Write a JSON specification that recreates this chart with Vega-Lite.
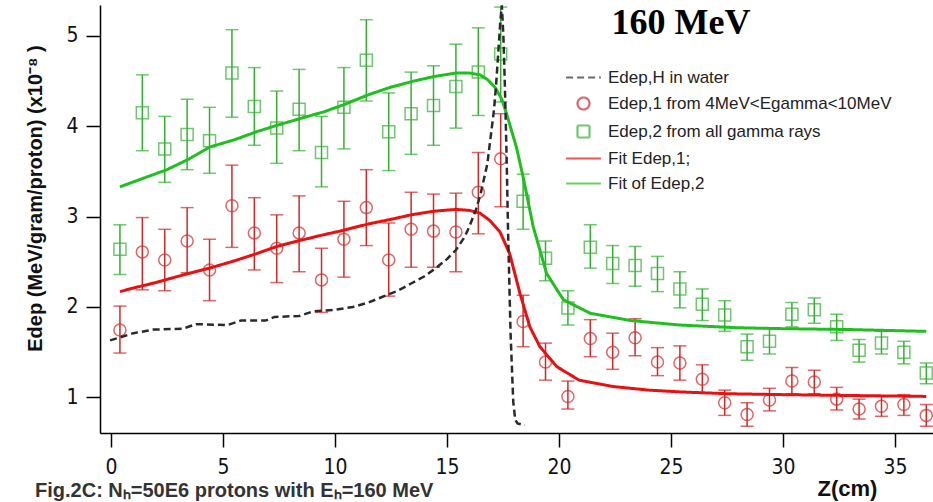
{
  "$schema": "https://vega.github.io/schema/vega-lite/v6.json",
  "width": 833,
  "height": 428,
  "autosize": {"type": "none"},
  "padding": {"left": 100, "top": 5, "right": 0, "bottom": 69},
  "background": "white",
  "config": {
    "view": {"stroke": null},
    "axis": {"domainColor": "#000", "domainWidth": 1.5, "tickColor": "#000", "tickWidth": 1.5, "tickSize": 14, "grid": false, "labelFont": "Liberation Sans Narrow, DejaVu Sans Condensed, sans-serif", "labelFontSize": 21, "labelColor": "#111", "labelFontWeight": "normal", "titleFont": "Liberation Sans", "titleFontWeight": "bold", "titleColor": "#111", "labelFlush": false, "labelOverlap": false},
    "axisX": {"labelBaseline": "middle", "labelPadding": 20, "titleFontSize": 22, "titleX": 747, "titleY": 55, "titleBaseline": "middle", "titleAlign": "center"},
    "axisY": {"labelPadding": 8, "titleFontSize": 20, "titleX": -65, "titleY": 193, "titleAngle": -90, "titleBaseline": "middle", "titleAlign": "center"},
    "legend": {"orient": "none", "legendX": 475, "legendY": 64, "labelFont": "Liberation Sans", "labelFontSize": 17, "labelColor": "#222", "rowPadding": 7, "labelOffset": 16, "labelLimit": 500, "padding": 0, "symbolSize": 144, "symbolStrokeWidth": 2.2}
  },
  "datasets": {
    "points": [
      {"s":"1","z":0.4,"v":1.745,"lo":1.49,"hi":2.01},
      {"s":"1","z":1.4,"v":2.61,"lo":2.19,"hi":2.99},
      {"s":"1","z":2.4,"v":2.52,"lo":2.18,"hi":2.86},
      {"s":"1","z":3.4,"v":2.73,"lo":2.38,"hi":3.10},
      {"s":"1","z":4.4,"v":2.41,"lo":2.07,"hi":2.75},
      {"s":"1","z":5.4,"v":3.12,"lo":2.66,"hi":3.57},
      {"s":"1","z":6.4,"v":2.82,"lo":2.41,"hi":3.21},
      {"s":"1","z":7.4,"v":2.65,"lo":2.27,"hi":3.02},
      {"s":"1","z":8.4,"v":2.82,"lo":2.39,"hi":3.23},
      {"s":"1","z":9.4,"v":2.30,"lo":1.94,"hi":2.65},
      {"s":"1","z":10.4,"v":2.75,"lo":2.33,"hi":3.17},
      {"s":"1","z":11.4,"v":3.10,"lo":2.68,"hi":3.52},
      {"s":"1","z":12.4,"v":2.52,"lo":2.12,"hi":2.93},
      {"s":"1","z":13.4,"v":2.86,"lo":2.44,"hi":3.27},
      {"s":"1","z":14.4,"v":2.84,"lo":2.44,"hi":3.25},
      {"s":"1","z":15.4,"v":2.83,"lo":2.39,"hi":3.26},
      {"s":"1","z":16.4,"v":3.27,"lo":2.81,"hi":3.71},
      {"s":"1","z":17.4,"v":3.64,"lo":3.11,"hi":4.14},
      {"s":"1","z":18.4,"v":1.84,"lo":1.56,"hi":2.13},
      {"s":"1","z":19.4,"v":1.39,"lo":1.19,"hi":1.60},
      {"s":"1","z":20.4,"v":1.01,"lo":0.87,"hi":1.18},
      {"s":"1","z":21.4,"v":1.65,"lo":1.45,"hi":1.86},
      {"s":"1","z":22.4,"v":1.50,"lo":1.31,"hi":1.71},
      {"s":"1","z":23.4,"v":1.66,"lo":1.46,"hi":1.87},
      {"s":"1","z":24.4,"v":1.39,"lo":1.24,"hi":1.55},
      {"s":"1","z":25.4,"v":1.38,"lo":1.19,"hi":1.57},
      {"s":"1","z":26.4,"v":1.20,"lo":1.05,"hi":1.36},
      {"s":"1","z":27.4,"v":0.94,"lo":0.80,"hi":1.08},
      {"s":"1","z":28.4,"v":0.81,"lo":0.68,"hi":0.94},
      {"s":"1","z":29.4,"v":0.97,"lo":0.85,"hi":1.10},
      {"s":"1","z":30.4,"v":1.18,"lo":1.04,"hi":1.33},
      {"s":"1","z":31.4,"v":1.17,"lo":1.04,"hi":1.30},
      {"s":"1","z":32.4,"v":0.98,"lo":0.86,"hi":1.11},
      {"s":"1","z":33.4,"v":0.87,"lo":0.76,"hi":0.98},
      {"s":"1","z":34.4,"v":0.90,"lo":0.79,"hi":1.01},
      {"s":"1","z":35.4,"v":0.92,"lo":0.80,"hi":1.03},
      {"s":"1","z":36.4,"v":0.80,"lo":0.68,"hi":0.92},
      {"s":"2","z":0.4,"v":2.64,"lo":2.36,"hi":2.91},
      {"s":"2","z":1.4,"v":4.15,"lo":3.73,"hi":4.57},
      {"s":"2","z":2.4,"v":3.75,"lo":3.38,"hi":4.11},
      {"s":"2","z":3.4,"v":3.91,"lo":3.52,"hi":4.30},
      {"s":"2","z":4.4,"v":3.84,"lo":3.48,"hi":4.21},
      {"s":"2","z":5.4,"v":4.59,"lo":4.10,"hi":5.07},
      {"s":"2","z":6.4,"v":4.22,"lo":3.79,"hi":4.65},
      {"s":"2","z":7.4,"v":3.98,"lo":3.59,"hi":4.39},
      {"s":"2","z":8.4,"v":4.19,"lo":3.73,"hi":4.63},
      {"s":"2","z":9.4,"v":3.71,"lo":3.33,"hi":4.11},
      {"s":"2","z":10.4,"v":4.21,"lo":3.75,"hi":4.65},
      {"s":"2","z":11.4,"v":4.73,"lo":4.28,"hi":5.18},
      {"s":"2","z":12.4,"v":3.94,"lo":3.51,"hi":4.37},
      {"s":"2","z":13.4,"v":4.14,"lo":3.69,"hi":4.60},
      {"s":"2","z":14.4,"v":4.23,"lo":3.79,"hi":4.67},
      {"s":"2","z":15.4,"v":4.44,"lo":3.98,"hi":4.91},
      {"s":"2","z":16.4,"v":4.60,"lo":4.12,"hi":5.09},
      {"s":"2","z":17.4,"v":4.80,"lo":4.27,"hi":5.32},
      {"s":"2","z":18.4,"v":3.17,"lo":2.86,"hi":3.47},
      {"s":"2","z":19.4,"v":2.54,"lo":2.29,"hi":2.73},
      {"s":"2","z":20.4,"v":1.99,"lo":1.80,"hi":2.18},
      {"s":"2","z":21.4,"v":2.66,"lo":2.43,"hi":2.91},
      {"s":"2","z":22.4,"v":2.48,"lo":2.26,"hi":2.68},
      {"s":"2","z":23.4,"v":2.46,"lo":2.23,"hi":2.67},
      {"s":"2","z":24.4,"v":2.37,"lo":2.17,"hi":2.56},
      {"s":"2","z":25.4,"v":2.20,"lo":1.99,"hi":2.39},
      {"s":"2","z":26.4,"v":2.03,"lo":1.85,"hi":2.20},
      {"s":"2","z":27.4,"v":1.91,"lo":1.73,"hi":2.07},
      {"s":"2","z":28.4,"v":1.56,"lo":1.41,"hi":1.70},
      {"s":"2","z":29.4,"v":1.62,"lo":1.48,"hi":1.76},
      {"s":"2","z":30.4,"v":1.92,"lo":1.78,"hi":2.05},
      {"s":"2","z":31.4,"v":1.97,"lo":1.82,"hi":2.10},
      {"s":"2","z":32.4,"v":1.78,"lo":1.63,"hi":1.92},
      {"s":"2","z":33.4,"v":1.52,"lo":1.39,"hi":1.64},
      {"s":"2","z":34.4,"v":1.60,"lo":1.48,"hi":1.73},
      {"s":"2","z":35.4,"v":1.50,"lo":1.37,"hi":1.62},
      {"s":"2","z":36.4,"v":1.27,"lo":1.15,"hi":1.38}
    ],
    "curves": [
      {"s":"H","z":-0.04,"v":1.63},{"s":"H","z":0.5,"v":1.67},{"s":"H","z":1.0,"v":1.71},{"s":"H","z":1.9,"v":1.75},
      {"s":"H","z":3.2,"v":1.76},{"s":"H","z":3.8,"v":1.81},{"s":"H","z":5.2,"v":1.80},{"s":"H","z":5.8,"v":1.85},
      {"s":"H","z":6.9,"v":1.85},{"s":"H","z":7.3,"v":1.89},{"s":"H","z":8.4,"v":1.90},{"s":"H","z":9.0,"v":1.95},
      {"s":"H","z":10.0,"v":1.97},{"s":"H","z":10.8,"v":2.00},{"s":"H","z":11.5,"v":2.05},{"s":"H","z":12.2,"v":2.12},
      {"s":"H","z":12.8,"v":2.18},{"s":"H","z":13.4,"v":2.26},{"s":"H","z":14.0,"v":2.34},{"s":"H","z":14.5,"v":2.43},
      {"s":"H","z":15.0,"v":2.53},{"s":"H","z":15.4,"v":2.63},{"s":"H","z":15.8,"v":2.78},{"s":"H","z":16.0,"v":2.89},
      {"s":"H","z":16.3,"v":3.08},{"s":"H","z":16.5,"v":3.25},{"s":"H","z":16.8,"v":3.58},{"s":"H","z":17.0,"v":3.98},
      {"s":"H","z":17.1,"v":4.18},{"s":"H","z":17.2,"v":4.48},{"s":"H","z":17.3,"v":4.85},{"s":"H","z":17.38,"v":5.15},
      {"s":"H","z":17.45,"v":5.34},{"s":"H","z":17.52,"v":5.0},{"s":"H","z":17.58,"v":4.5},{"s":"H","z":17.66,"v":3.7},
      {"s":"H","z":17.73,"v":2.82},{"s":"H","z":17.84,"v":1.71},{"s":"H","z":17.96,"v":0.95},{"s":"H","z":18.05,"v":0.75},
      {"s":"H","z":18.15,"v":0.71},{"s":"H","z":18.48,"v":0.69},
      {"s":"F1","z":0.4,"v":2.17},{"s":"F1","z":1.0,"v":2.21},{"s":"F1","z":2.0,"v":2.27},{"s":"F1","z":3.0,"v":2.34},
      {"s":"F1","z":4.4,"v":2.43},{"s":"F1","z":5.5,"v":2.51},{"s":"F1","z":6.5,"v":2.59},{"s":"F1","z":7.4,"v":2.67},
      {"s":"F1","z":8.5,"v":2.74},{"s":"F1","z":9.5,"v":2.80},{"s":"F1","z":10.4,"v":2.85},{"s":"F1","z":11.5,"v":2.92},
      {"s":"F1","z":12.5,"v":2.97},{"s":"F1","z":13.4,"v":3.02},{"s":"F1","z":14.4,"v":3.06},{"s":"F1","z":15.4,"v":3.08},
      {"s":"F1","z":16.0,"v":3.07},{"s":"F1","z":16.47,"v":3.04},{"s":"F1","z":16.9,"v":2.96},{"s":"F1","z":17.37,"v":2.83},
      {"s":"F1","z":17.8,"v":2.59},{"s":"F1","z":18.26,"v":2.15},{"s":"F1","z":18.7,"v":1.78},{"s":"F1","z":19.15,"v":1.56},
      {"s":"F1","z":19.9,"v":1.34},{"s":"F1","z":20.9,"v":1.19},{"s":"F1","z":22.4,"v":1.12},{"s":"F1","z":24.0,"v":1.08},
      {"s":"F1","z":25.4,"v":1.06},{"s":"F1","z":27.5,"v":1.04},{"s":"F1","z":29.9,"v":1.03},{"s":"F1","z":33.0,"v":1.02},
      {"s":"F1","z":36.4,"v":1.01},
      {"s":"F2","z":0.4,"v":3.33},{"s":"F2","z":1.5,"v":3.43},{"s":"F2","z":2.5,"v":3.52},{"s":"F2","z":3.5,"v":3.64},
      {"s":"F2","z":4.4,"v":3.77},{"s":"F2","z":5.5,"v":3.85},{"s":"F2","z":6.5,"v":3.94},{"s":"F2","z":7.4,"v":4.01},
      {"s":"F2","z":8.5,"v":4.09},{"s":"F2","z":9.5,"v":4.16},{"s":"F2","z":10.4,"v":4.24},{"s":"F2","z":11.5,"v":4.35},
      {"s":"F2","z":12.45,"v":4.43},{"s":"F2","z":13.5,"v":4.50},{"s":"F2","z":14.4,"v":4.55},{"s":"F2","z":15.4,"v":4.59},
      {"s":"F2","z":16.0,"v":4.59},{"s":"F2","z":16.47,"v":4.57},{"s":"F2","z":16.8,"v":4.52},{"s":"F2","z":17.15,"v":4.43},
      {"s":"F2","z":17.45,"v":4.30},{"s":"F2","z":17.66,"v":4.14},{"s":"F2","z":17.85,"v":3.98},{"s":"F2","z":18.1,"v":3.77},
      {"s":"F2","z":18.4,"v":3.44},{"s":"F2","z":18.85,"v":2.89},{"s":"F2","z":19.45,"v":2.37},{"s":"F2","z":20.2,"v":2.08},
      {"s":"F2","z":21.4,"v":1.93},{"s":"F2","z":23.2,"v":1.85},{"s":"F2","z":25.4,"v":1.80},{"s":"F2","z":28.0,"v":1.77},
      {"s":"F2","z":30.0,"v":1.76},{"s":"F2","z":33.0,"v":1.75},{"s":"F2","z":36.4,"v":1.73}
    ]
  },
  "layer": [
    {
      "data": {"name": "points"},
      "transform": [{"filter": "datum.s === '1'"}],
      "mark": {"type": "errorbar", "color": "#cc2a2a", "ticks": {"size": 13, "thickness": 1.5}, "thickness": 1.5, "clip": true},
      "encoding": {
        "x": {"field": "z", "type": "quantitative", "scale": {"domain": [-0.49, 36.7], "nice": false, "zero": false}, "axis": {"values": [0, 5, 10, 15, 20, 25, 30, 35], "format": "~g", "title": "Z(cm)"}},
        "y": {"field": "lo", "type": "quantitative", "scale": {"domain": [0.605, 5.343], "nice": false, "zero": false}, "axis": {"values": [1, 2, 3, 4, 5], "format": "~g", "title": "Edep (MeV/gram/proton) (x10⁻⁸ )"}},
        "y2": {"field": "hi"}
      }
    },
    {
      "data": {"name": "points"},
      "transform": [{"filter": "datum.s === '2'"}],
      "mark": {"type": "errorbar", "color": "#33b033", "ticks": {"size": 13, "thickness": 1.5}, "thickness": 1.5, "clip": true},
      "encoding": {
        "x": {"field": "z", "type": "quantitative", "scale": {"domain": [-0.49, 36.7], "nice": false, "zero": false}, "axis": {"values": [0, 5, 10, 15, 20, 25, 30, 35], "format": "~g", "title": "Z(cm)"}},
        "y": {"field": "lo", "type": "quantitative", "scale": {"domain": [0.605, 5.343], "nice": false, "zero": false}, "axis": {"values": [1, 2, 3, 4, 5], "format": "~g", "title": "Edep (MeV/gram/proton) (x10⁻⁸ )"}},
        "y2": {"field": "hi"}
      }
    },
    {
      "data": {"name": "points"},
      "mark": {"type": "point", "filled": false, "strokeWidth": 1.5, "size": 144, "clip": true},
      "encoding": {
        "x": {"field": "z", "type": "quantitative", "scale": {"domain": [-0.49, 36.7], "nice": false, "zero": false}, "axis": {"values": [0, 5, 10, 15, 20, 25, 30, 35], "format": "~g", "title": "Z(cm)"}},
        "y": {"field": "v", "type": "quantitative", "scale": {"domain": [0.605, 5.343], "nice": false, "zero": false}, "axis": {"values": [1, 2, 3, 4, 5], "format": "~g", "title": "Edep (MeV/gram/proton) (x10⁻⁸ )"}},
        "color": {"field": "s", "type": "nominal", "scale": {"domain": ["H", "1", "2", "F1", "F2"], "range": ["#2a2a2a", "#cc2a2a", "#33b033", "#e81010", "#1fbf1f"]}, "legend": {"title": null, "labelExpr": "{'H':'Edep,H in water','1':'Edep,1 from 4MeV<Egamma<10MeV','2':'Edep,2 from all gamma rays','F1':'Fit Edep,1;','F2':'Fit of Edep,2'}[datum.label]"}},
        "shape": {"field": "s", "type": "nominal", "scale": {"domain": ["H", "1", "2", "F1", "F2"], "range": ["M-2.9,0H2.9", "circle", "square", "M-2.9,0H2.9", "M-2.9,0H2.9"]}, "legend": {"title": null, "labelExpr": "{'H':'Edep,H in water','1':'Edep,1 from 4MeV<Egamma<10MeV','2':'Edep,2 from all gamma rays','F1':'Fit Edep,1;','F2':'Fit of Edep,2'}[datum.label]"}}
      }
    },
    {
      "data": {"name": "curves"},
      "transform": [{"filter": "datum.s === 'F1' || datum.s === 'F2'"}],
      "mark": {"type": "line", "strokeWidth": 3, "clip": true},
      "encoding": {
        "x": {"field": "z", "type": "quantitative", "scale": {"domain": [-0.49, 36.7], "nice": false, "zero": false}, "axis": {"values": [0, 5, 10, 15, 20, 25, 30, 35], "format": "~g", "title": "Z(cm)"}},
        "y": {"field": "v", "type": "quantitative", "scale": {"domain": [0.605, 5.343], "nice": false, "zero": false}, "axis": {"values": [1, 2, 3, 4, 5], "format": "~g", "title": "Edep (MeV/gram/proton) (x10⁻⁸ )"}},
        "color": {"field": "s", "type": "nominal", "scale": {"domain": ["H", "1", "2", "F1", "F2"], "range": ["#2a2a2a", "#cc2a2a", "#33b033", "#e81010", "#1fbf1f"]}, "legend": {"title": null, "labelExpr": "{'H':'Edep,H in water','1':'Edep,1 from 4MeV<Egamma<10MeV','2':'Edep,2 from all gamma rays','F1':'Fit Edep,1;','F2':'Fit of Edep,2'}[datum.label]"}},
        "strokeDash": {"field": "s", "type": "nominal", "scale": {"domain": ["H", "1", "2", "F1", "F2"], "range": [[7, 4], [1, 0], [1, 0], [1, 0], [1, 0]]}, "legend": {"title": null, "labelExpr": "{'H':'Edep,H in water','1':'Edep,1 from 4MeV<Egamma<10MeV','2':'Edep,2 from all gamma rays','F1':'Fit Edep,1;','F2':'Fit of Edep,2'}[datum.label]"}}
      }
    },
    {
      "data": {"name": "curves"},
      "transform": [{"filter": "datum.s === 'H'"}],
      "mark": {"type": "line", "strokeWidth": 2.5, "clip": true},
      "encoding": {
        "x": {"field": "z", "type": "quantitative", "scale": {"domain": [-0.49, 36.7], "nice": false, "zero": false}, "axis": {"values": [0, 5, 10, 15, 20, 25, 30, 35], "format": "~g", "title": "Z(cm)"}},
        "y": {"field": "v", "type": "quantitative", "scale": {"domain": [0.605, 5.343], "nice": false, "zero": false}, "axis": {"values": [1, 2, 3, 4, 5], "format": "~g", "title": "Edep (MeV/gram/proton) (x10⁻⁸ )"}},
        "color": {"field": "s", "type": "nominal", "scale": {"domain": ["H", "1", "2", "F1", "F2"], "range": ["#2a2a2a", "#cc2a2a", "#33b033", "#e81010", "#1fbf1f"]}, "legend": {"title": null, "labelExpr": "{'H':'Edep,H in water','1':'Edep,1 from 4MeV<Egamma<10MeV','2':'Edep,2 from all gamma rays','F1':'Fit Edep,1;','F2':'Fit of Edep,2'}[datum.label]"}},
        "strokeDash": {"field": "s", "type": "nominal", "scale": {"domain": ["H", "1", "2", "F1", "F2"], "range": [[7, 4], [1, 0], [1, 0], [1, 0], [1, 0]]}, "legend": {"title": null, "labelExpr": "{'H':'Edep,H in water','1':'Edep,1 from 4MeV<Egamma<10MeV','2':'Edep,2 from all gamma rays','F1':'Fit Edep,1;','F2':'Fit of Edep,2'}[datum.label]"}}
      }
    },
    {
      "data": {"values": [{"label": "160 MeV"}]},
      "mark": {"type": "text", "align": "center", "baseline": "alphabetic", "font": "Liberation Serif", "fontSize": 36, "fontWeight": "bold", "fill": "#000", "clip": false},
      "encoding": {
        "x": {"datum": 25.45},
        "y": {"datum": 5.022},
        "text": {"field": "label", "type": "nominal"}
      }
    },
    {
      "data": {"values": [{"label": "Fig.2C: Nₕ=50E6 protons with Eₕ=160 MeV"}]},
      "mark": {"type": "text", "align": "left", "baseline": "alphabetic", "font": "Liberation Sans", "fontSize": 20, "fontWeight": "bold", "fill": "#333", "clip": false},
      "encoding": {
        "x": {"datum": -3.39},
        "y": {"datum": -0.108},
        "text": {"field": "label", "type": "nominal"}
      }
    }
  ]
}
